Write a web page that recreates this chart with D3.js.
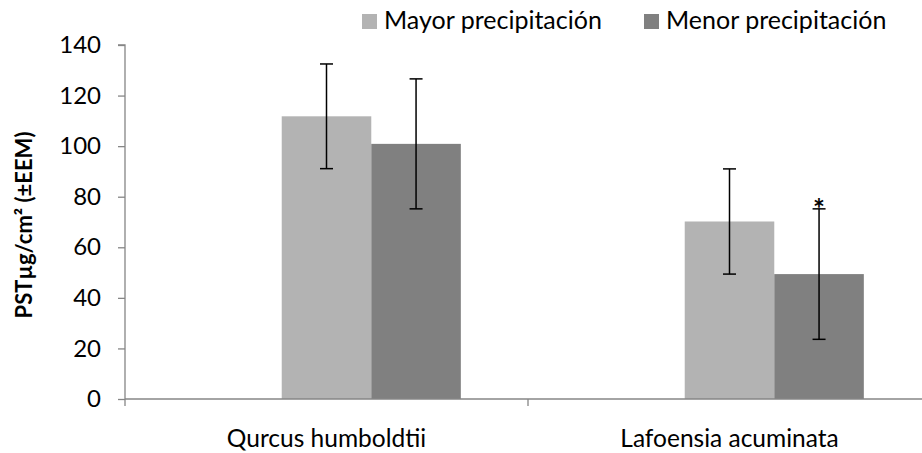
<!DOCTYPE html>
<html>
<head>
<meta charset="utf-8">
<script src="https://cdn.jsdelivr.net/npm/d3@7"></script>
<style>
  html, body { margin: 0; padding: 0; background: #fff; }
  svg { display: block; }
  text { font-family: Lato, "Open Sans", sans-serif; fill: #000; }
</style>
</head>
<body>
<svg id="chart" width="922" height="453"></svg>
<script>
// ---- data ----
const categories = ["Qurcus humboldtii", "Lafoensia acuminata"];
const seriesNames = ["", "Mayor precipitación", "Menor precipitación"]; // first slot is an empty series
const mayorValues = [111.8, 70.2];
const menorValues = [100.9, 49.4];
const mayorErrors = [20.7, 20.8];
const menorErrors = [25.7, 25.8];
const significance = ["", "*"]; // marker on Menor bar
const yTicks = [0, 20, 40, 60, 80, 100, 120, 140];
const seriesColors = ["none", "#b3b3b3", "#808080"];

const svg = d3.select("#chart");
const margin = { left: 125, right: -9, top: 45, bottom: 54 };
const W = 922, H = 453;

const x0 = d3.scaleBand().domain(categories)
  .range([margin.left, W - margin.right]).padding(0);
const x1 = d3.scaleBand().domain(seriesNames)
  .range([0, x0.bandwidth()]).paddingInner(0).paddingOuter(0.75);
const y = d3.scaleLinear().domain([0, 140]).range([H - margin.bottom, margin.top]);

const rows = [];
categories.forEach((c, i) => {
  rows.push({ cat: c, s: seriesNames[1], v: mayorValues[i], e: mayorErrors[i], mark: "" });
  rows.push({ cat: c, s: seriesNames[2], v: menorValues[i], e: menorErrors[i], mark: significance[i] });
});

// bars
svg.append("g").selectAll("rect").data(rows).join("rect")
  .attr("x", d => x0(d.cat) + x1(d.s))
  .attr("width", x1.bandwidth())
  .attr("y", d => y(d.v))
  .attr("height", d => y(0) - y(d.v))
  .attr("fill", d => seriesColors[seriesNames.indexOf(d.s)]);

// y axis
const yAxis = d3.axisLeft(y).tickValues(yTicks).tickSize(7).tickPadding(17);
const gy = svg.append("g").attr("transform", `translate(${margin.left},0)`).call(yAxis);
gy.select(".domain").attr("stroke", "#868686").attr("stroke-width", 1.3).attr("d", `M-7,${y(140)}H0V${y(0)}`);
gy.selectAll(".tick line").attr("stroke", "#868686").attr("stroke-width", 1.3);
gy.selectAll(".tick text").style("font-family", "Lato, sans-serif").style("font-size", "24px").attr("fill", "#000");

// x axis
const xAxis = d3.axisBottom(x0).tickSize(0).tickPadding(31);
const gx = svg.append("g").attr("transform", `translate(0,${y(0)})`).call(xAxis);
gx.select(".domain").attr("stroke", "#868686").attr("stroke-width", 1.3).attr("d", `M${margin.left},0H${W - margin.right}`);
gx.selectAll(".tick text").style("font-family", "Lato, sans-serif").style("font-size", "24.5px").attr("fill", "#000");
// category separator ticks at band boundaries
const bounds = categories.map(c => x0(c)).concat([x0(categories[categories.length - 1]) + x0.bandwidth()]);
svg.append("g").selectAll("line").data(bounds).join("line")
  .attr("x1", d => d).attr("x2", d => d)
  .attr("y1", y(0)).attr("y2", y(0) + 7)
  .attr("stroke", "#868686").attr("stroke-width", 1.3);

// error bars
const eb = svg.append("g").attr("stroke", "#000").attr("stroke-width", 1.5);
rows.forEach(d => {
  const cx = x0(d.cat) + x1(d.s) + x1.bandwidth() / 2;
  eb.append("line").attr("x1", cx).attr("x2", cx).attr("y1", y(d.v + d.e)).attr("y2", y(d.v - d.e));
  [d.v + d.e, d.v - d.e].forEach(v => {
    eb.append("line").attr("x1", cx - 6.5).attr("x2", cx + 6.5).attr("y1", y(v)).attr("y2", y(v));
  });
  if (d.mark) {
    svg.append("text").attr("x", cx).attr("y", y(d.v + d.e) + 10)
      .attr("text-anchor", "middle").style("font-size", "28px").style("font-weight", "bold")
      .text(d.mark);
  }
});

// y label
svg.append("text")
  .attr("transform", `translate(32,225) rotate(-90)`)
  .attr("text-anchor", "middle")
  .style("font-size", "22px").style("font-weight", "bold")
  .text("PSTµg/cm² (±EEM)");

// legend
const legendX = [362, 644];
seriesNames.slice(1).forEach((s, i) => {
  const g = svg.append("g").attr("transform", `translate(${legendX[i]},0)`);
  g.append("rect").attr("x", 0).attr("y", 14).attr("width", 15).attr("height", 15).attr("fill", seriesColors[i + 1]);
  g.append("text").attr("x", 22).attr("y", 29).style("font-size", "25px").text(s);
});
</script>
</body>
</html>
